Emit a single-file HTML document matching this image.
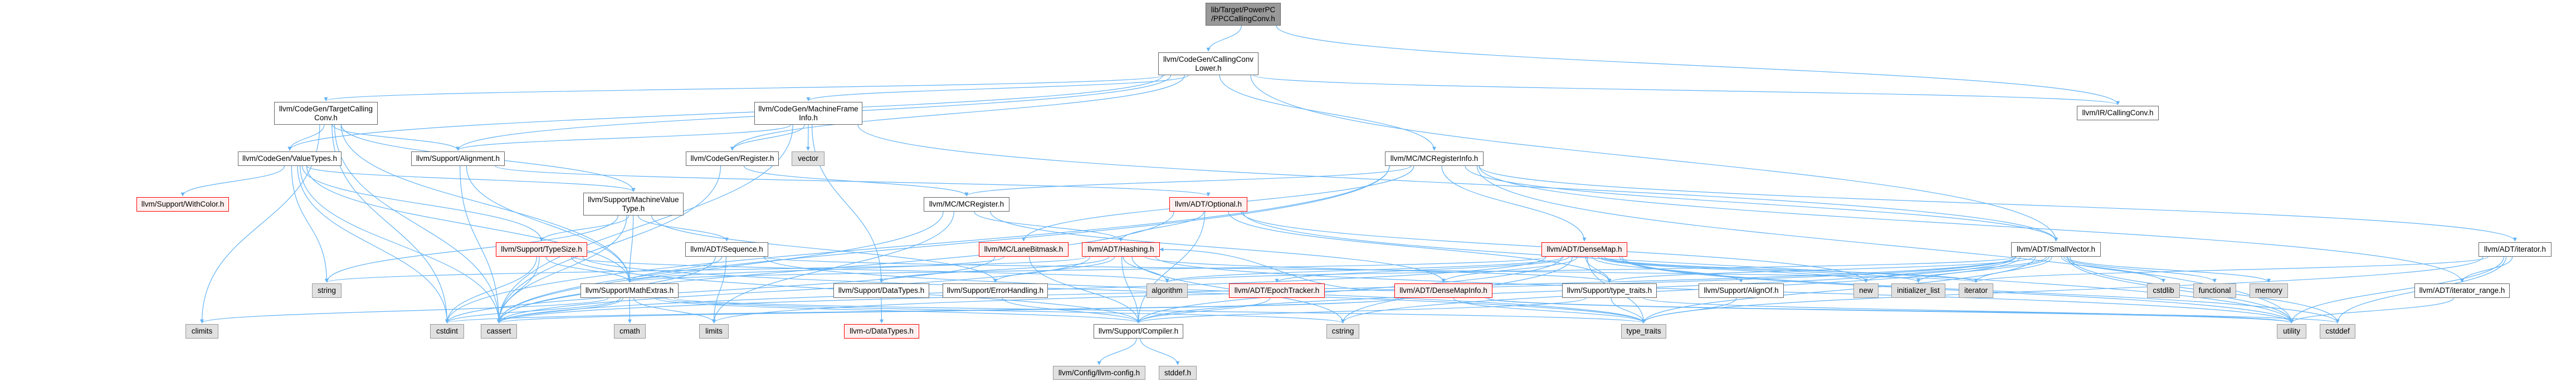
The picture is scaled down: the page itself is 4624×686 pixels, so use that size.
<!DOCTYPE html>
<html><head><meta charset="utf-8">
<style>
html,body{margin:0;padding:0;background:#fff;}
#c{position:relative;width:4624px;height:686px;overflow:hidden;font-family:"Liberation Sans",sans-serif;}
.n{position:absolute;box-sizing:border-box;border:1.5px solid #666;background:#fff;font-size:13.5px;color:#000;display:flex;align-items:center;justify-content:center;text-align:center;line-height:16px;white-space:nowrap;}
.r{border-color:#f00;background:#fff0f0;}
.g{border-color:#999;background:#e0e0e0;}
.p{border-color:#666;background:#999;}
svg{position:absolute;left:0;top:0;}
</style></head><body>
<div id="c">
<svg id="s" width="4624" height="686" viewBox="0 0 4624 686">
<defs><marker id="a" viewBox="0 0 10 10" refX="9" refY="5" markerWidth="7" markerHeight="7" orient="auto-start-reverse" markerUnits="userSpaceOnUse"><path d="M0,0 L10,5 L0,10 z" fill="#63b3f5"/></marker></defs>
<g id="e" fill="none" stroke="#63b3f5" stroke-width="1.2"></g>
</svg>
<div class="n p" id="PPC" style="left:2164px;top:5px;width:135px;height:41px">lib/Target/PowerPC<br>/PPCCallingConv.h</div>
<div class="n" id="CCL" style="left:2079px;top:94px;width:180px;height:41px">llvm/CodeGen/CallingConv<br>Lower.h</div>
<div class="n" id="TCC" style="left:492px;top:183px;width:186px;height:41px">llvm/CodeGen/TargetCalling<br>Conv.h</div>
<div class="n" id="MFI" style="left:1354px;top:183px;width:194px;height:41px">llvm/CodeGen/MachineFrame<br>Info.h</div>
<div class="n" id="IRC" style="left:3728px;top:190px;width:147px;height:26px">llvm/IR/CallingConv.h</div>
<div class="n" id="VT" style="left:427px;top:272px;width:186px;height:26px">llvm/CodeGen/ValueTypes.h</div>
<div class="n" id="AL" style="left:738px;top:272px;width:168px;height:26px">llvm/Support/Alignment.h</div>
<div class="n" id="REG" style="left:1231px;top:272px;width:167px;height:26px">llvm/CodeGen/Register.h</div>
<div class="n g" id="VEC" style="left:1421px;top:272px;width:59px;height:26px">vector</div>
<div class="n" id="MRI" style="left:2486px;top:272px;width:177px;height:26px">llvm/MC/MCRegisterInfo.h</div>
<div class="n" id="MVT" style="left:1047px;top:346px;width:180px;height:41px">llvm/Support/MachineValue<br>Type.h</div>
<div class="n r" id="WC" style="left:245px;top:354px;width:166px;height:26px">llvm/Support/WithColor.h</div>
<div class="n" id="MCR" style="left:1658px;top:354px;width:154px;height:26px">llvm/MC/MCRegister.h</div>
<div class="n r" id="OPT" style="left:2099px;top:354px;width:140px;height:26px">llvm/ADT/Optional.h</div>
<div class="n r" id="TS" style="left:890px;top:435px;width:164px;height:26px">llvm/Support/TypeSize.h</div>
<div class="n" id="SEQ" style="left:1230px;top:435px;width:149px;height:26px">llvm/ADT/Sequence.h</div>
<div class="n r" id="LB" style="left:1757px;top:435px;width:161px;height:26px">llvm/MC/LaneBitmask.h</div>
<div class="n r" id="HA" style="left:1942px;top:435px;width:140px;height:26px">llvm/ADT/Hashing.h</div>
<div class="n r" id="DM" style="left:2767px;top:435px;width:154px;height:26px">llvm/ADT/DenseMap.h</div>
<div class="n" id="SV" style="left:3610px;top:435px;width:161px;height:26px">llvm/ADT/SmallVector.h</div>
<div class="n" id="ITH" style="left:4449px;top:435px;width:131px;height:26px">llvm/ADT/iterator.h</div>
<div class="n g" id="STR" style="left:560px;top:509px;width:53px;height:26px">string</div>
<div class="n" id="ME" style="left:1042px;top:509px;width:176px;height:26px">llvm/Support/MathExtras.h</div>
<div class="n" id="DT" style="left:1496px;top:509px;width:172px;height:26px">llvm/Support/DataTypes.h</div>
<div class="n" id="EH" style="left:1692px;top:509px;width:189px;height:26px">llvm/Support/ErrorHandling.h</div>
<div class="n g" id="ALG" style="left:2058px;top:509px;width:74px;height:26px">algorithm</div>
<div class="n r" id="ET" style="left:2206px;top:509px;width:172px;height:26px">llvm/ADT/EpochTracker.h</div>
<div class="n r" id="DMI" style="left:2503px;top:509px;width:176px;height:26px">llvm/ADT/DenseMapInfo.h</div>
<div class="n" id="TTH" style="left:2804px;top:509px;width:170px;height:26px">llvm/Support/type_traits.h</div>
<div class="n" id="AO" style="left:3049px;top:509px;width:153px;height:26px">llvm/Support/AlignOf.h</div>
<div class="n g" id="NEW" style="left:3327px;top:509px;width:45px;height:26px">new</div>
<div class="n g" id="IL" style="left:3395px;top:509px;width:97px;height:26px">initializer_list</div>
<div class="n g" id="IT" style="left:3516px;top:509px;width:62px;height:26px">iterator</div>
<div class="n g" id="CSL" style="left:3854px;top:509px;width:59px;height:26px">cstdlib</div>
<div class="n g" id="FUN" style="left:3937px;top:509px;width:77px;height:26px">functional</div>
<div class="n g" id="MEM" style="left:4038px;top:509px;width:69px;height:26px">memory</div>
<div class="n" id="ITR" style="left:4334px;top:509px;width:171px;height:26px">llvm/ADT/iterator_range.h</div>
<div class="n g" id="CLI" style="left:333px;top:582px;width:59px;height:26px">climits</div>
<div class="n g" id="CSI" style="left:772px;top:582px;width:61px;height:26px">cstdint</div>
<div class="n g" id="CAS" style="left:863px;top:582px;width:65px;height:26px">cassert</div>
<div class="n g" id="CM" style="left:1102px;top:582px;width:57px;height:26px">cmath</div>
<div class="n g" id="LIM" style="left:1255px;top:582px;width:53px;height:26px">limits</div>
<div class="n r" id="CDT" style="left:1515px;top:582px;width:135px;height:26px">llvm-c/DataTypes.h</div>
<div class="n" id="COMP" style="left:1963px;top:582px;width:161px;height:26px">llvm/Support/Compiler.h</div>
<div class="n g" id="CSTR" style="left:2381px;top:582px;width:59px;height:26px">cstring</div>
<div class="n g" id="TT" style="left:2910px;top:582px;width:81px;height:26px">type_traits</div>
<div class="n g" id="UT" style="left:4087px;top:582px;width:53px;height:26px">utility</div>
<div class="n g" id="CSD" style="left:4164px;top:582px;width:64px;height:26px">cstddef</div>
<div class="n g" id="CFG" style="left:1890px;top:657px;width:166px;height:25px">llvm/Config/llvm-config.h</div>
<div class="n g" id="SDD" style="left:2080px;top:657px;width:68px;height:25px">stddef.h</div>
</div>
<script>
var E={
PPC:"CCL IRC",
CCL:"TCC MFI REG MRI AL SV IRC VT",
TCC:"VT MVT AL ME CAS CLI CSI",
MFI:"REG VEC DT AL CAS SV",
VT:"WC MVT ME TS STR CAS CSI",
AL:"ME CAS OPT",
REG:"MCR CAS",
MRI:"DM ITH ITR SV MCR LB CAS CSI UT",
MVT:"TS ME SEQ EH CAS STR",
TS:"ME CAS CSI ALG TT COMP",
SEQ:"ME CAS LIM IT TT",
MCR:"HA DMI CAS LIM",
OPT:"HA COMP TTH CAS NEW UT",
LB:"COMP ME CSI",
HA:"DT EH ALG CAS CSTR STR UT TTH COMP",
DM:"DMI ET AO TTH COMP ME ALG CAS CSD CSTR IL IT NEW TT UT",
SV:"COMP TTH ALG CAS CSD CSL CSTR FUN IL IT LIM MEM NEW TT UT",
ITH:"ITR CSD IT TT UT",
ITR:"UT",
ME:"COMP CAS CLI CM CSI CSTR LIM TT",
DT:"CDT",
EH:"COMP",
ET:"COMP",
DMI:"HA CAS CSD CSI TT UT",
TTH:"COMP TT UT",
AO:"TT",
COMP:"CFG SDD"
};
function box(id){var d=document.getElementById(id);return {x:d.offsetLeft,y:d.offsetTop,w:d.offsetWidth,h:d.offsetHeight};}
var g=document.getElementById('e'),ns="http://www.w3.org/2000/svg";
for(var s in E){var a=box(s);E[s].split(' ').forEach(function(t){var b=box(t);
var sx=a.x+a.w/2,sy=a.y+a.h,tx=b.x+b.w/2,ty=b.y,d;
if(b.y>a.y+a.h){var dx=tx-sx;sx=sx+Math.max(-a.w/2+8,Math.min(a.w/2-8,dx*0.05));
var m=(ty-sy)/2;d="M"+sx+","+sy+" C"+sx+","+(sy+m)+" "+tx+","+(ty-m)+" "+tx+","+(ty-2);}
else{ // same/up row: side to side
var ay=a.y+a.h/2,by=b.y+b.h/2;if(b.x>a.x){sx=a.x+a.w;tx=b.x;}else{sx=a.x;tx=b.x+b.w;}
d="M"+sx+","+ay+" C"+((sx+tx)/2)+","+ay+" "+((sx+tx)/2)+","+by+" "+tx+","+by;}
var p=document.createElementNS(ns,'path');p.setAttribute('d',d);p.setAttribute('marker-end','url(#a)');g.appendChild(p);});}
</script>
</body></html>
